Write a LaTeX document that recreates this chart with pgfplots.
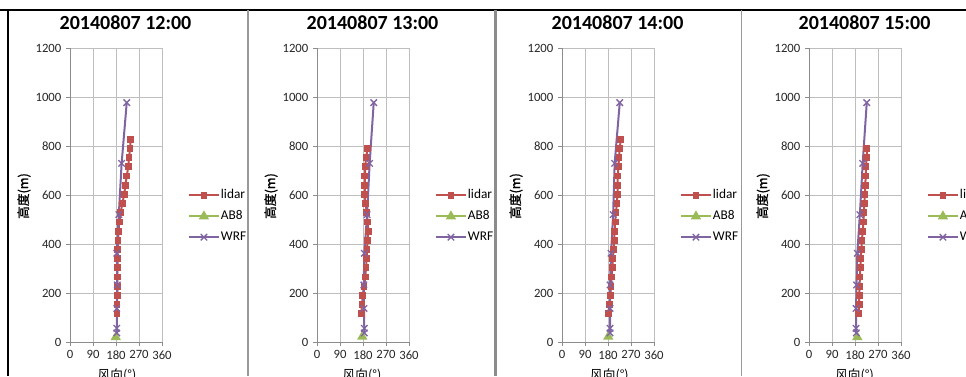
\documentclass[border=0pt]{standalone}
\usepackage{fontspec}
\setmainfont{Carlito}
\newfontfamily\cjk{Noto Sans CJK SC}
\newfontfamily\cjkb{Noto Sans CJK SC}[FakeBold=1.2]
\usepackage{pgfplots}
\pgfplotsset{compat=1.18}
\definecolor{lidarc}{HTML}{C0504D}
\definecolor{abc}{HTML}{9BBB59}
\definecolor{wrfc}{HTML}{8064A2}
\definecolor{gridc}{HTML}{BEBEBE}
\definecolor{axc}{HTML}{8C8C8C}
\pgfplotsset{panel/.style={
  scale only axis, width=69pt, height=220.5pt,
  xmin=0, xmax=360, ymin=0, ymax=1200,
  xtick={0,90,180,270,360}, ytick={0,200,400,600,800,1000,1200},
  grid=major, major grid style={draw=gridc, line width=0.7pt},
  axis lines*=left, axis line style={draw=axc, line width=0.7pt},
  tick align=outside, major tick length=3pt,
  tick style={draw=axc, line width=0.7pt},
  /pgf/number format/assume math mode=true,
  /pgf/number format/1000 sep={},
  ticklabel style={font=\fontsize{9.5}{9.5}\selectfont, text=black!85},
  legend style={draw=none, fill=none, at={(1,0.4286)}, anchor=west, xshift=19.5pt,
    font=\fontsize{10}{10}\selectfont, row sep=5.5pt, inner sep=0pt,
    nodes={inner sep=1pt}},
  legend cell align=left,
  clip=false,
},
legimg/.style={legend image code/.code={\draw[mark repeat=2,mark phase=2,##1] plot coordinates {(0pt,0pt) (11pt,0pt) (22pt,0pt)};}},
lid/.style={color=lidarc, line width=1.5pt, mark=square*, mark size=1.8pt, mark options={solid}, legimg},
abs/.style={color=abc, line width=1.5pt, mark=triangle*, mark size=3pt, legimg},
wrf/.style={color=wrfc, line width=1.5pt, mark=x, mark size=3.4pt, mark options={line width=1pt}, legimg},
}
\begin{document}
\begin{tikzpicture}
\path[use as bounding box] (0,0) rectangle (724.5pt,282pt);
\clip (0,0) rectangle (724.5pt,282pt);
% frames
\draw[black, line width=2.2pt] (0,274.5pt) -- (724.5pt,274.5pt);
\draw[black, line width=2.2pt] (6pt,274.5pt) -- (6pt,0);
\draw[gray!80, line width=1pt] (186pt,274.5pt) -- (186pt,0);
\draw[gray!90, line width=1.8pt] (371.5pt,274.5pt) -- (371.5pt,0);
\draw[gray!80, line width=0.8pt] (556pt,274.5pt) -- (556pt,0);

% ---------- Panel 1 ----------
\begin{axis}[panel, at={(52.5pt,25.5pt)}, anchor=south west]
\addplot[lid] coordinates {(184,115) (184,152.5) (185,190) (185,227.5) (185,265) (186,302.5) (186,340) (187,377.5) (188,415) (190,452.5) (193,490) (198,527.5) (205,565) (212,602.5) (217,640) (222,677.5) (228,715) (231,752.5) (235,790) (238,827.5)};
\addplot[abs] coordinates {(179,20)};
\addplot[wrf] coordinates {(183,37) (183,56) (183,137) (185,233) (183,362) (191,520) (202,729) (222,977)};
\legend{lidar,AB8,WRF}
\end{axis}

% ---------- Panel 2 ----------
\begin{axis}[panel, at={(237.75pt,25.5pt)}, anchor=south west]
\addplot[lid] coordinates {(173.5,115) (176,152.5) (179,190) (184,227.5) (189.5,265) (191.5,302.5) (194.5,340) (195.5,377.5) (198,415) (200.5,452.5) (198.5,490) (195,527.5) (190,565) (187,602.5) (187,640) (187,677.5) (189.5,715) (191.5,752.5) (198.5,790)};
\addplot[abs] coordinates {(177,22)};
\addplot[wrf] coordinates {(185,37) (185,56) (184,137) (183,233) (185,362) (196,520) (206,729) (222,977)};
\legend{lidar,AB8,WRF}
\end{axis}

% ---------- Panel 3 ----------
\begin{axis}[panel, at={(421.5pt,25.5pt)}, anchor=south west]
\addplot[lid] coordinates {(181,115) (185,152.5) (189,190) (192,227.5) (194,265) (197,302.5) (199,340) (202,377.5) (204,415) (206,452.5) (208,490) (211,527.5) (215,565) (217,602.5) (218,640) (218,677.5) (221,715) (223,752.5) (226,790) (230,827.5)};
\addplot[abs] coordinates {(181,22)};
\addplot[wrf] coordinates {(188,37) (188,56) (188,137) (188,233) (192,362) (200,520) (206,729) (226,977)};
\legend{lidar,AB8,WRF}
\end{axis}

% ---------- Panel 4 ----------
\begin{axis}[panel, at={(606.75pt,25.5pt)}, anchor=south west]
\addplot[lid] coordinates {(194,115) (196,152.5) (197,190) (198,227.5) (199,265) (201,302.5) (203,340) (205,377.5) (207,415) (210,452.5) (213,490) (215,527.5) (216,565) (219,602.5) (220,640) (222,677.5) (223,715) (226,752.5) (226,790)};
\addplot[abs] coordinates {(189,20)};
\addplot[wrf] coordinates {(185,37) (184,56) (184,137) (186,233) (189,362) (199,520) (210,729) (226,977)};
\legend{lidar,AB8,WRF}
\end{axis}

% titles
\node[font=\bfseries\fontsize{15}{15}\selectfont] at (94.125pt,265pt) {20140807 12:00};
\node[font=\bfseries\fontsize{15}{15}\selectfont] at (279.375pt,265pt) {20140807 13:00};
\node[font=\bfseries\fontsize{15}{15}\selectfont] at (463.125pt,265pt) {20140807 14:00};
\node[font=\bfseries\fontsize{15}{15}\selectfont] at (648.375pt,265pt) {20140807 15:00};
% y labels
\node[rotate=90, font=\cjkb\fontsize{9.5}{9.5}\selectfont] at (18pt,135pt) {高度(m)};
\node[rotate=90, font=\cjkb\fontsize{9.5}{9.5}\selectfont] at (203.25pt,135pt) {高度(m)};
\node[rotate=90, font=\cjkb\fontsize{9.5}{9.5}\selectfont] at (387pt,135pt) {高度(m)};
\node[rotate=90, font=\cjkb\fontsize{9.5}{9.5}\selectfont] at (572.25pt,135pt) {高度(m)};
% x labels
\node[font=\cjk\fontsize{9.5}{9.5}\selectfont] at (87.75pt,0.8pt) {风向(°)};
\node[font=\cjk\fontsize{9.5}{9.5}\selectfont] at (271.5pt,0.8pt) {风向(°)};
\node[font=\cjk\fontsize{9.5}{9.5}\selectfont] at (457.1pt,0.8pt) {风向(°)};
\node[font=\cjk\fontsize{9.5}{9.5}\selectfont] at (640.9pt,0.8pt) {风向(°)};
\end{tikzpicture}
\end{document}
